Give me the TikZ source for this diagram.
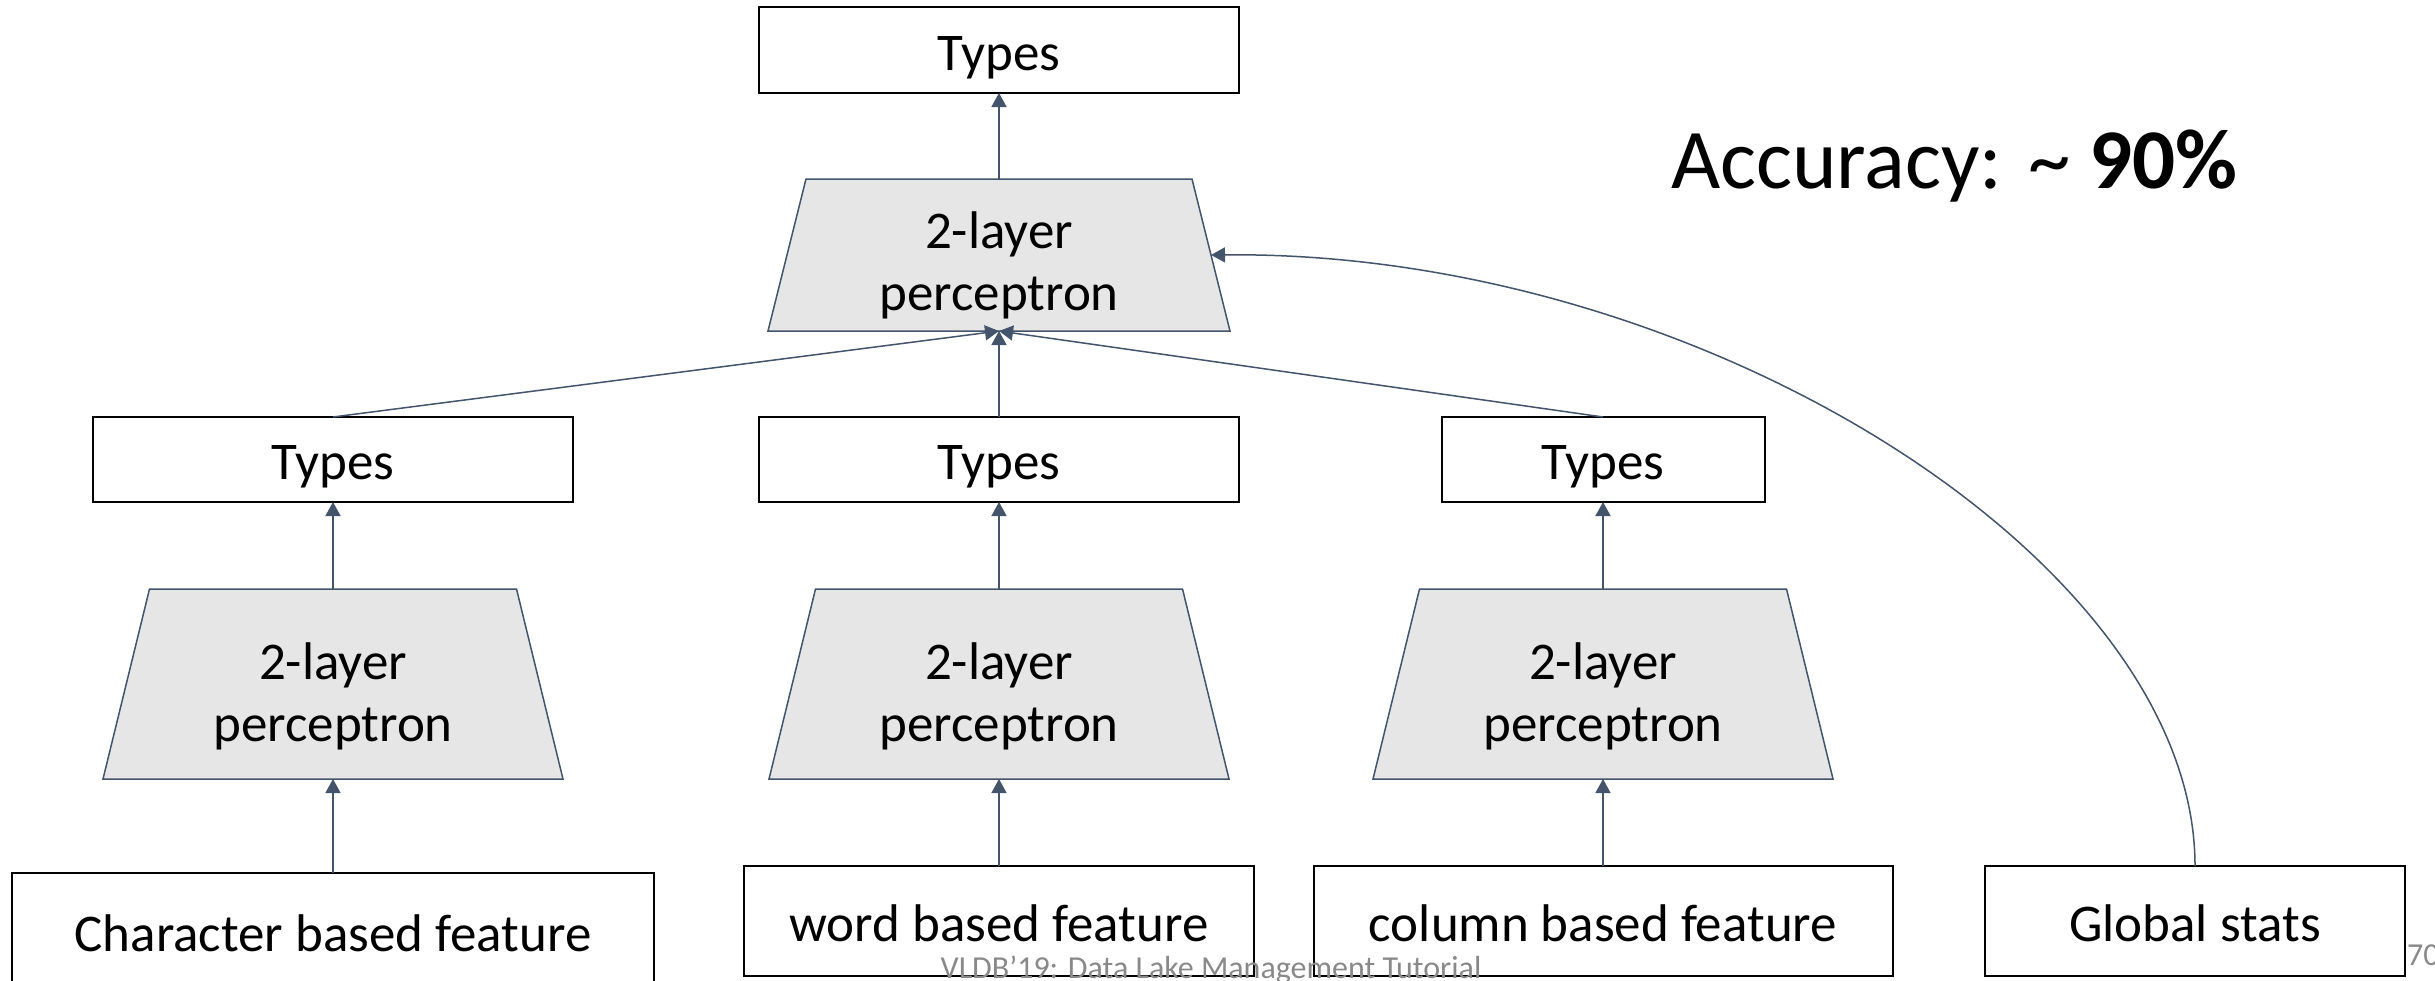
\documentclass[tikz,border=0pt]{standalone}
\usepackage{fontspec}
\setmainfont{Carlito}
\usetikzlibrary{arrows.meta,backgrounds}
\definecolor{slate}{HTML}{44546A}
\definecolor{percfill}{HTML}{E6E6E6}
\definecolor{footgray}{HTML}{898989}
\begin{document}
\begin{tikzpicture}[x=1pt,y=-1pt,
  every node/.style={inner sep=0pt, outer sep=0pt},
  box/.style={draw=black, line width=2pt, fill=white,
    font=\fontsize{53}{62}\selectfont, text height=42pt, text depth=2pt},
  perc/.style={align=center, font=\fontsize{53}{62}\selectfont},
  percshape/.style={draw=slate, line width=1.5pt, fill=percfill, line join=miter},
  link/.style={draw=slate, line width=1.5pt, -{Triangle[width=15pt,length=14pt]}}
]
\useasboundingbox (0,0) rectangle (2435,980);

% output types and the combining perceptron
\node[box, minimum width=480pt, minimum height=86pt] (T0) at (999,50) {Types};
\node[perc, minimum width=462pt, minimum height=152pt] (P0) at (999,255) {};
\node[perc] (L0) at ([yshift=-10pt]P0.center) {2-layer\\perceptron};

% per-feature types
\node[box, minimum width=480pt, minimum height=85pt] (T1) at (333,459.5) {Types};
\node[box, minimum width=480pt, minimum height=85pt] (T2) at (999,459.5) {Types};
\node[box, minimum width=323pt, minimum height=85pt] (T3) at (1603,459.5) {Types};

% per-feature perceptrons
\node[perc, minimum width=460pt, minimum height=190pt] (P1) at (333,684) {};
\node[perc, minimum width=460pt, minimum height=190pt] (P2) at (999,684) {};
\node[perc, minimum width=460pt, minimum height=190pt] (P3) at (1603,684) {};
\node[perc] (L1) at ([yshift=-12pt]P1.center) {2-layer\\perceptron};
\node[perc] (L2) at ([yshift=-12pt]P2.center) {2-layer\\perceptron};
\node[perc] (L3) at ([yshift=-12pt]P3.center) {2-layer\\perceptron};

% trapezoid outlines behind the perceptron labels
\begin{scope}[on background layer]
  \fill[white] (0,0) rectangle (2435,980);
  \filldraw[percshape] (P0.south west) -- (P0.south east)
    -- ([xshift=-38pt]P0.north east) -- ([xshift=38pt]P0.north west) -- cycle;
  \foreach \p in {P1,P2,P3}
    \filldraw[percshape] (\p.south west) -- (\p.south east)
      -- ([xshift=-46.5pt]\p.north east) -- ([xshift=46.5pt]\p.north west) -- cycle;
\end{scope}
\coordinate (P0in) at ([xshift=-19pt]P0.east);

% input features
\node[box, minimum width=642pt, minimum height=116pt] (B1) at (333,931) {Character based feature};
\node[box, minimum width=510pt, minimum height=110pt] (B2) at (999,921) {word based feature};
\node[box, minimum width=579pt, minimum height=110pt] (B3) at (1603,921) {column based feature};
\node[box, minimum width=420pt, minimum height=110pt] (B4) at (2195,921) {Global stats};

% connectors
\draw[link] (B1.north) -- (P1.south);
\draw[link] (B2.north) -- (P2.south);
\draw[link] (B3.north) -- (P3.south);
\draw[link] (P1.north) -- (T1.south);
\draw[link] (P2.north) -- (T2.south);
\draw[link] (P3.north) -- (T3.south);
\draw[link] (T1.north) -- (P0.south);
\draw[link] (T2.north) -- (P0.south);
\draw[link] (T3.north) -- (P0.south);
\draw[link] (P0.north) -- (T0.south);
\draw[link] (B4.north) .. controls +(0,-305) and +(489,-5) .. (P0in);

% headline figure
\node[anchor=base west, font=\fontsize{85}{100}\selectfont] (acc) at (1671,188)
  {Accuracy: \textasciitilde{} \textbf{90\%}};

% slide footer
\node[anchor=base, font=\fontsize{32}{38}\selectfont, text=footgray] (foot) at (1211,978)
  {VLDB’19: Data Lake Management Tutorial};
\node[anchor=base west, font=\fontsize{32}{38}\selectfont, text=footgray] (pnum) at (2407,965) {70};
\end{tikzpicture}
\end{document}
